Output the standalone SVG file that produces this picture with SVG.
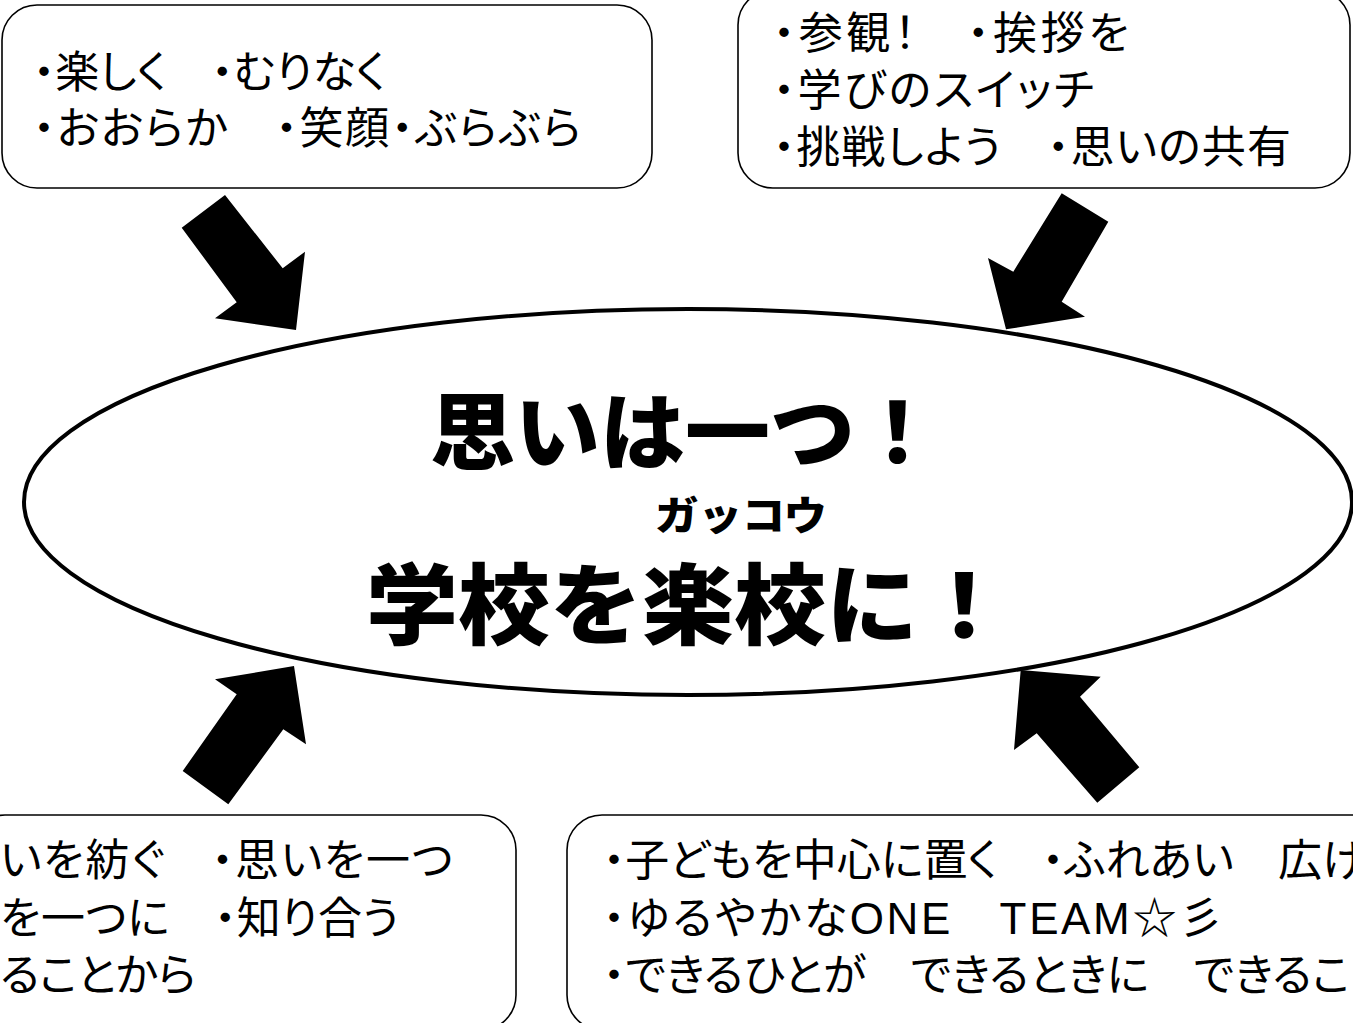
<svg xmlns="http://www.w3.org/2000/svg" width="1353" height="1023" viewBox="0 0 1353 1023">
<style>
.box{fill:#fff;stroke:#000;stroke-width:1.6}
.t{font-family:"Noto Sans CJK JP","Noto Sans",sans-serif;font-size:44px;fill:#000;font-feature-settings:"palt";}
.lat{font-family:"Liberation Sans","Noto Sans CJK JP",sans-serif}
.title{font-family:"Noto Sans CJK JP",sans-serif;font-weight:900;fill:#000}
.arrow{fill:#000;stroke:none}
</style>
<rect width="1353" height="1023" fill="#fff"/>
<g id="center">
<ellipse cx="688" cy="502" rx="664" ry="193" fill="#fff" stroke="#000" stroke-width="4"/>
<text class="title" x="430" y="463" font-size="84" textLength="510" lengthAdjust="spacingAndGlyphs">思いは一つ！</text>
<text class="title" x="655" y="530" font-size="40" textLength="172" lengthAdjust="spacingAndGlyphs">ガッコウ</text>
<text class="title" x="366" y="637" font-size="88" textLength="644" lengthAdjust="spacingAndGlyphs">学校を楽校に！</text>
</g>
<g id="box-top-left">
<rect class="box" x="2" y="5" width="650" height="183" rx="35"/>
<text class="t" x="33" y="88" textLength="353">・楽しく　・むりなく</text>
<text class="t" x="33" y="144" textLength="548">・おおらか　・笑顔・ぶらぶら</text>
</g>
<g id="box-top-right">
<rect class="box" x="738" y="-10" width="612" height="198" rx="35"/>
<text class="t" x="773" y="49" textLength="356">・参観！　・挨拶を</text>
<text class="t" x="773" y="106" textLength="321">・学びのスイッチ</text>
<text class="t" x="773" y="163" textLength="518">・挑戦しよう　・思いの共有</text>
</g>
<g id="box-bottom-left">
<rect class="box" x="-30" y="815" width="546" height="215" rx="35"/>
<text class="t" x="0" y="876" textLength="453">いを紡ぐ　・思いを一つ</text>
<text class="t" x="0" y="934" textLength="399">を一つに　・知り合う</text>
<text class="t" x="0" y="991" textLength="196">ることから</text>
</g>
<g id="box-bottom-right">
<rect class="box" x="567" y="815" width="820" height="215" rx="35"/>
<text class="t" x="603" y="876" textLength="763">・子どもを中心に置く　・ふれあい　広げ</text>
<text class="t" x="603" y="934" textLength="620">・ゆるやかな<tspan class="lat">ONE　TEAM</tspan>☆彡</text>
<text class="t" x="603" y="991" textLength="747">・できるひとが　できるときに　できるこ</text>
</g>
<g id="connectors">
<polygon class="arrow" points="181.7,227.7 225,195 282.7,268.3 305,251.7 296,330 215,318.3 236.7,302.3"/>
<polygon class="arrow" points="1061.7,193.3 1108.3,221.7 1061.7,301.7 1085,316.7 1006,329.3 988,258 1013.3,271.7"/>
<polygon class="arrow" points="294,666 306,744.3 283.3,729.3 228.3,804.3 182.7,771 236.7,694.3 215,679.3"/>
<polygon class="arrow" points="1020.7,670 1100.7,676.7 1080,696.7 1139.3,767.3 1097.3,802.7 1036.7,733.3 1014,750"/>
</g>
</svg>
